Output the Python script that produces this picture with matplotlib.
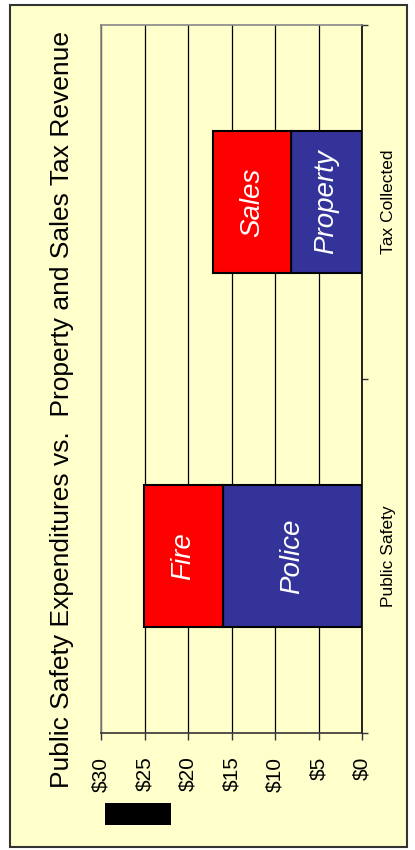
import numpy as np
import matplotlib
matplotlib.use("Agg")
import matplotlib.pyplot as plt
import matplotlib.patches as mpatches

plt.rcParams["font.family"] = ["Liberation Sans", "DejaVu Sans"]

# -- Data ----------------------------------------------------------------------
categories = ["Public Safety", "Tax Collected"]
bottom_vals = [16.0, 8.2]      # Police, Property
top_vals = [9.1, 8.9]          # Fire, Sales
bottom_names = ["Police", "Property"]
top_names = ["Fire", "Sales"]
value_ticks = [0, 5, 10, 15, 20, 25, 30]
value_labels = ["$0", "$5", "$10", "$15", "$20", "$25", "$30"]

COLOR_BLUE = "#333399"
COLOR_RED = "#FF0000"
BG = "#FFFFCC"

W, H = 415, 850
fig = plt.figure(figsize=(W / 100, H / 100), dpi=100)
fig.patch.set_facecolor("white")

def px(x0, y0, x1, y1):
    # pixel box (top-left origin) -> figure fraction rect
    return (x0 / W, 1 - y1 / H, (x1 - x0) / W, (y1 - y0) / H)

# outer frame
l, b, w, h = px(10, 5, 407, 847)
fig.patches.append(mpatches.Rectangle((l, b), w, h, transform=fig.transFigure,
                                      facecolor=BG, edgecolor="#333333",
                                      linewidth=1.5, zorder=-2))
# black block (legend remnant)
l, b, w, h = px(105, 803, 171, 825)
fig.patches.append(mpatches.Rectangle((l, b), w, h, transform=fig.transFigure,
                                      facecolor="black", edgecolor="none", zorder=-1))

ax = fig.add_axes(px(101, 25, 362, 733))
ax.set_zorder(2)
ax.set_facecolor(BG)

y = np.arange(len(categories))
ax.barh(y, bottom_vals, height=0.4, color=COLOR_BLUE, edgecolor="black",
        linewidth=1.5, zorder=3)
ax.barh(y, top_vals, left=bottom_vals, height=0.4, color=COLOR_RED,
        edgecolor="black", linewidth=1.5, zorder=3)

for i in range(len(categories)):
    ax.text(bottom_vals[i] / 2, y[i], bottom_names[i], rotation=90, color="white",
            style="italic", fontsize=20, ha="center", va="center", zorder=4)
    ax.text(bottom_vals[i] + top_vals[i] / 2, y[i], top_names[i], rotation=90,
            color="white", style="italic", fontsize=20, ha="center", va="center",
            zorder=4)

ax.set_xlim(30, 0)
ax.set_ylim(-0.5, 1.5)

ax.set_xticks(value_ticks)
ax.set_xticklabels(value_labels, rotation=90, fontsize=15)
ax.tick_params(axis="x", direction="out", length=5, width=1, color="#333333", pad=12)
ax.grid(axis="x", color="black", linewidth=0.9, zorder=1)
ax.set_axisbelow(True)

ax.yaxis.tick_right()
ax.set_yticks(y)
ax.set_yticklabels(categories, rotation=90, fontsize=12.5)
ax.tick_params(axis="y", which="major", length=0, pad=14)
ax.set_yticks([-0.5, 0.5, 1.5], minor=True)
ax.tick_params(axis="y", which="minor", direction="out", length=4.5, width=1,
               color="#333333", right=True, left=False)
for lab in ax.get_yticklabels():
    lab.set_va("center")

ax.spines["left"].set_color("#888888")
ax.spines["top"].set_color("#888888")
ax.spines["bottom"].set_color("#333333")
ax.spines["right"].set_color("black")
for s in ax.spines.values():
    s.set_linewidth(1.2)

fig.text(62 / W, 1 - 410 / H,
         "Public Safety Expenditures vs.  Property and Sales Tax Revenue",
         rotation=90, fontsize=19, ha="center", va="center")

fig.savefig("out.png", dpi=100, facecolor=fig.get_facecolor())
